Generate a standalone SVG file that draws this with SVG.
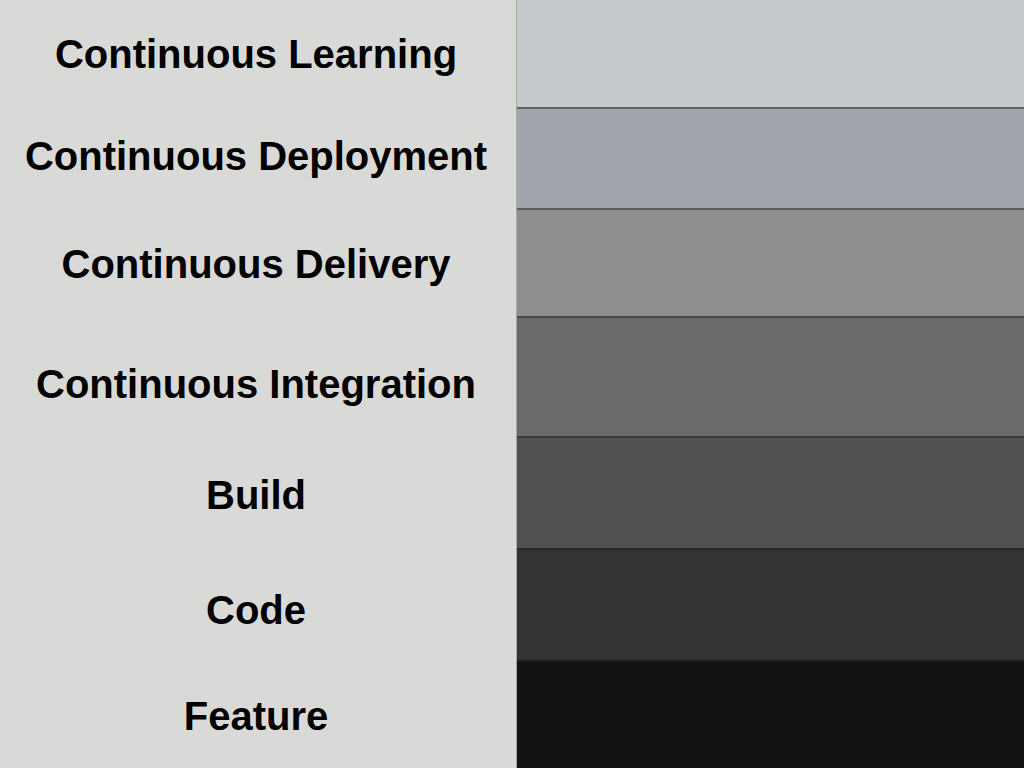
<svg xmlns="http://www.w3.org/2000/svg" width="1024" height="768" viewBox="0 0 1024 768">
<style>
.lbl{font-family:"Liberation Sans",Arial,Helvetica,sans-serif;font-weight:bold;font-size:40px;fill:#000;text-anchor:middle}
.sep{stroke-width:2}
</style>
<rect x="0" y="0" width="1024" height="768" fill="#d9d9d7"/>
<g id="bands">
<g id="band-learning"><rect x="517" y="0" width="507" height="108" fill="#c6c9cb"/></g>
<g id="band-deployment"><rect x="517" y="108" width="507" height="101" fill="#a2a5ab"/></g>
<g id="band-delivery"><rect x="517" y="209" width="507" height="108" fill="#8f8f8f"/></g>
<g id="band-integration"><rect x="517" y="317" width="507" height="120" fill="#6a6a6a"/></g>
<g id="band-build"><rect x="517" y="437" width="507" height="112" fill="#515151"/></g>
<g id="band-code"><rect x="517" y="549" width="507" height="112" fill="#333333"/></g>
<g id="band-feature"><rect x="517" y="661" width="507" height="107" fill="#111111"/></g>
</g>
<g id="separators">
<line class="sep" x1="517" y1="108" x2="1024" y2="108" stroke="#5e6064"/>
<line class="sep" x1="517" y1="209" x2="1024" y2="209" stroke="#5a5b5e"/>
<line class="sep" x1="517" y1="317" x2="1024" y2="317" stroke="#4a4a4a"/>
<line class="sep" x1="517" y1="437" x2="1024" y2="437" stroke="#3a3a3a"/>
<line class="sep" x1="517" y1="549" x2="1024" y2="549" stroke="#262626"/>
<line class="sep" x1="517" y1="661" x2="1024" y2="661" stroke="#1c1c1c"/>
<line x1="516.5" y1="0" x2="516.5" y2="768" stroke="#a8a8a6" stroke-width="1"/>
</g>
<g id="labels">
<g id="lbl-learning"><text class="lbl" x="256" y="68">Continuous Learning</text></g>
<g id="lbl-deployment"><text class="lbl" x="256" y="170">Continuous Deployment</text></g>
<g id="lbl-delivery"><text class="lbl" x="256" y="278">Continuous Delivery</text></g>
<g id="lbl-integration"><text class="lbl" x="256" y="398">Continuous Integration</text></g>
<g id="lbl-build"><text class="lbl" x="256" y="509">Build</text></g>
<g id="lbl-code"><text class="lbl" x="256" y="624">Code</text></g>
<g id="lbl-feature"><text class="lbl" x="256" y="730">Feature</text></g>
</g>
</svg>
